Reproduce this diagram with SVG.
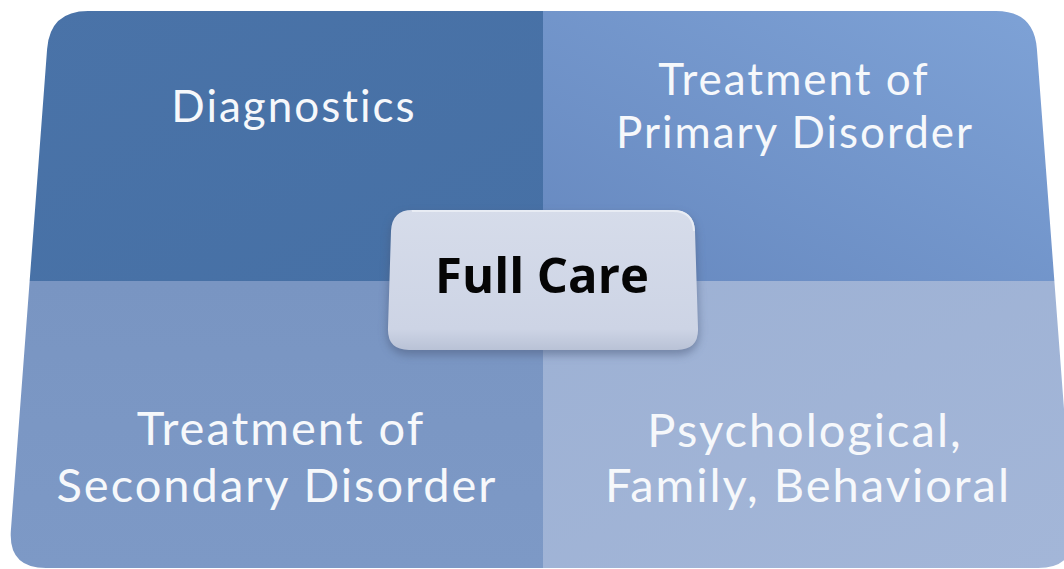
<svg xmlns="http://www.w3.org/2000/svg" width="1064" height="569" viewBox="0 0 1064 569">
  <defs>
    <style>
      .lbl { font-family: Lato, "Open Sans", "Liberation Sans", sans-serif; fill: #f6f8fb; text-anchor: middle; letter-spacing: 2px; }
      .top { font-size: 44px; }
      .bot { font-size: 47px; }
      .center { font-family: "Open Sans", "Liberation Sans", sans-serif; font-weight: bold; font-size: 49px; fill: #050505; text-anchor: middle; }
    </style>
    <clipPath id="outerClip">
      <path d="M 88,11 L 996,11 Q 1034,11 1036.9,49 L 1073.1,530 Q 1076,568 1038,568 L 46,568 Q 8,568 10.9,530 L 47.1,49 Q 50,11 88,11 Z"/>
    </clipPath>
    <linearGradient id="gTL" x1="0" y1="0" x2="1" y2="1">
      <stop offset="0" stop-color="#4a73a8"/>
      <stop offset="1" stop-color="#4670a5"/>
    </linearGradient>
    <linearGradient id="gTR" x1="0" y1="1" x2="1" y2="0">
      <stop offset="0" stop-color="#6688bf"/>
      <stop offset="1" stop-color="#7fa3d7"/>
    </linearGradient>
    <linearGradient id="gBL" x1="0" y1="0" x2="0" y2="1">
      <stop offset="0" stop-color="#7995c2"/>
      <stop offset="1" stop-color="#7d99c6"/>
    </linearGradient>
    <linearGradient id="gBR" x1="0" y1="0" x2="1" y2="1">
      <stop offset="0" stop-color="#9db1d4"/>
      <stop offset="1" stop-color="#a3b6d8"/>
    </linearGradient>
    <linearGradient id="gBox" x1="0" y1="0" x2="0" y2="1">
      <stop offset="0" stop-color="#d6dcea"/>
      <stop offset="0.85" stop-color="#cdd4e5"/>
      <stop offset="1" stop-color="#b9c2d6"/>
    </linearGradient>
    <filter id="blur" x="-10%" y="-20%" width="120%" height="140%">
      <feGaussianBlur stdDeviation="4"/>
    </filter>
  </defs>

  <g id="quadrants" clip-path="url(#outerClip)">
    <g id="diagnostics">
      <rect x="0" y="0" width="543" height="281" fill="url(#gTL)"/>
      <text class="lbl top" x="294" y="122" letter-spacing="1.6">Diagnostics</text>
    </g>
    <g id="primary">
      <rect x="543" y="0" width="521" height="281" fill="url(#gTR)"/>
      <text class="lbl top" x="794" y="95">Treatment of</text>
      <text class="lbl top" x="795" y="148">Primary Disorder</text>
    </g>
    <g id="secondary">
      <rect x="0" y="281" width="543" height="288" fill="url(#gBL)"/>
      <text class="lbl bot" x="281" y="445">Treatment of</text>
      <text class="lbl bot" x="277" y="502">Secondary Disorder</text>
    </g>
    <g id="psychological">
      <rect x="543" y="281" width="521" height="288" fill="url(#gBR)"/>
      <text class="lbl bot" x="805" y="447">Psychological,</text>
      <text class="lbl bot" x="808" y="502">Family, Behavioral</text>
    </g>
  </g>

  <g id="full-care">
    <path d="M 410,214 L 673,214 Q 695,214 696,236 L 699,330 Q 700,355 676,355 L 410,355 Q 386,355 387,330 L 390,236 Q 391,214 410,214 Z" fill="#4a5878" opacity="0.5" filter="url(#blur)"/>
    <path d="M 412,210 L 673,210 Q 694,210 695,231 L 698,328 Q 699,350 677,350 L 409,350 Q 387,350 388,328 L 391,231 Q 392,210 412,210 Z" fill="url(#gBox)"/>
    <path d="M 412,211 L 673,211 Q 693,211 694,231" fill="none" stroke="#e8ecf4" stroke-width="2"/>
    <text class="center" x="542" y="293">Full Care</text>
  </g>

  <g id="connectors"/>
</svg>
